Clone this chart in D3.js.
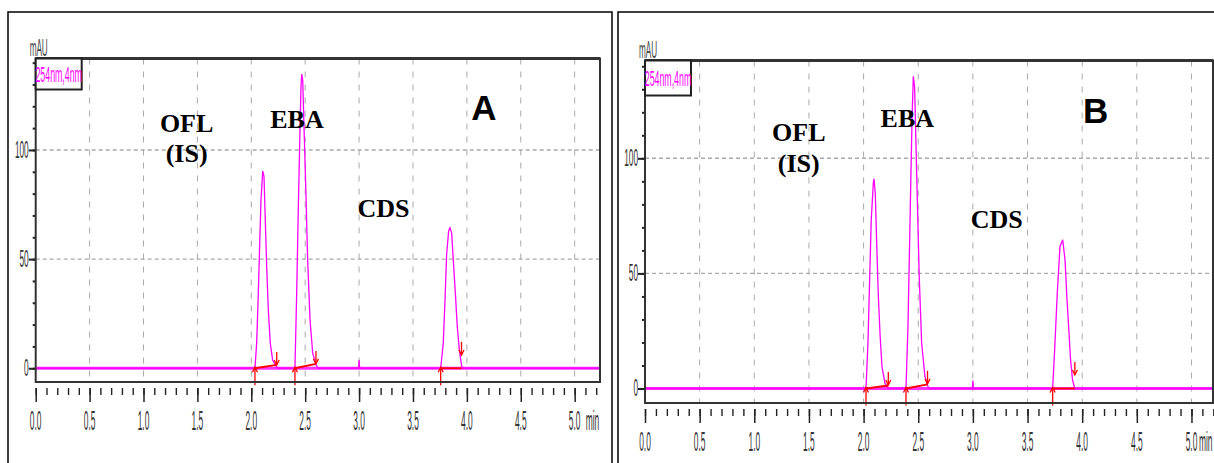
<!DOCTYPE html>
<html>
<head>
<meta charset="utf-8">
<script src="https://cdn.jsdelivr.net/npm/d3@7"></script>
<style>
body { margin: 0; background: #fff; }
svg { display: block; }
</style>
</head>
<body>
<script>
// tick labels
let xTickValues = [0, 0.5, 1, 1.5, 2, 2.5, 3, 3.5, 4, 4.5, 5];
let xTickLabels = ["0.0", "0.5", "1.0", "1.5", "2.0", "2.5", "3.0", "3.5", "4.0", "4.5", "5.0"];
let yTickValues = [0, 50, 100];
let yTickLabels = ["0", "50", "100"];
let detector = "254nm,4nm";

// chromatogram A: [time (min), signal (mAU)]
let traceA = [
    [0, 0], [2.034, 0], [2.050, 11.5], [2.065, 34], [2.078, 57], [2.090, 77], [2.106, 90.4],
    [2.118, 87.8], [2.127, 72.5], [2.143, 46.5], [2.158, 26.7], [2.176, 11.5], [2.198, 3.8],
    [2.229, 1.1], [2.245, 0],
    [2.405, 0], [2.421, 34], [2.436, 72.5], [2.449, 103], [2.461, 129], [2.468, 134.8],
    [2.477, 132], [2.489, 110.7], [2.507, 80], [2.523, 49.6], [2.545, 22], [2.570, 6.9],
    [2.600, 1.6], [2.620, 0],
    [2.995, 0], [3.0, 3.8], [3.005, 0],
    [3.757, 0], [3.781, 11.5], [3.797, 31], [3.812, 52], [3.831, 63], [3.843, 64.3],
    [3.859, 61.9], [3.874, 49.6], [3.893, 34.4], [3.911, 19.1], [3.930, 8.4], [3.952, 0.8],
    [3.965, 0], [5.235, 0]
];

// chromatogram B
let traceB = [
    [0, 0], [2.022, 0], [2.040, 19.6], [2.056, 48.5], [2.070, 73.2], [2.089, 89.2], [2.095, 91.1],
    [2.107, 84.8], [2.120, 63], [2.134, 41.4], [2.150, 24], [2.168, 9.6], [2.196, 2.2],
    [2.226, 0],
    [2.388, 0], [2.406, 26.8], [2.418, 55.7], [2.431, 87.6], [2.443, 116.5], [2.455, 135.6],
    [2.467, 131], [2.479, 106.7], [2.494, 77.6], [2.509, 48.9], [2.531, 19.9], [2.561, 5.4],
    [2.592, 0.4], [2.605, 0],
    [2.995, 0], [3.0, 3.5], [3.005, 0],
    [3.730, 0], [3.751, 19.6], [3.772, 41.4], [3.797, 61.7], [3.822, 64.6], [3.843, 55.9],
    [3.858, 41.4], [3.876, 26.8], [3.894, 12.3], [3.912, 3.6], [3.933, 0], [5.197, 0]
];

// integration marks: start / end time (min), level at end (mAU), tip of end arrow (mAU)
let peakStartA = [2.034, 2.405, 3.757];
let peakEndA = [2.236, 2.600, 3.950];
let endLevelA = [1.5, 2, 0];
let endTipA = [1.5, 2, 6.1];
let peakStartB = [2.022, 2.388, 3.730];
let peakEndB = [2.226, 2.585, 3.933];
let endLevelB = [1.3, 1.8, 0];
let endTipB = [1.5, 2, 5.9];

// peak labels, anchored in data units
let peakNames = ["OFL", "(IS)", "EBA", "CDS"];
let labelTimeA = [1.40, 1.40, 2.424, 3.226];
let labelMauA = [108.2, 94.5, 110.2, 69.4];
let labelTimeB = [1.407, 1.407, 2.40, 3.218];
let labelMauB = [107.6, 94, 113.4, 69.6];
let panelLetters = ["A", "B"];
let letterTime = [4.158, 4.124];
let letterMau = [113.7, 115.5];

let panels = [
    {frame: [8, 12, 604, 470], l: 35.7, r: 600, t: 58.5, b: 382, xMax: 5.235, yMin: -6.3, yMax: 141.9,
     legendH: 31, trace: traceA, start: peakStartA, end: peakEndA, lvl: endLevelA, tip: endTipA,
     labT: labelTimeA, labV: labelMauA},
    {frame: [618, 12, 620, 470], l: 645, r: 1213, t: 60.5, b: 403, xMax: 5.197, yMin: -6.3, yMax: 142.5,
     legendH: 35, trace: traceB, start: peakStartB, end: peakEndB, lvl: endLevelB, tip: endTipB,
     labT: labelTimeB, labV: labelMauB}
];

let svg = d3.select("body").append("svg").attr("width", 1214).attr("height", 463);

// narrow, tall text like the instrument printout
function narrowText(g, x, y, str, size, sx, anchor, color)
{
    g.append("text")
        .attr("transform", "translate(" + x + "," + y + ") scale(" + sx + ",1)")
        .attr("text-anchor", anchor)
        .attr("font-family", "Liberation Sans, Arial, sans-serif")
        .attr("font-size", size)
        .attr("fill", color)
        .text(str);
}

function arrow(g, x, y1, y2)
{
    let dir = y2 < y1 ? 1 : -1;
    g.append("line").attr("x1", x).attr("x2", x).attr("y1", y1).attr("y2", y2)
        .attr("stroke", "#f00").attr("stroke-width", 1.3);
    g.append("polyline")
        .attr("points", (x - 2.5) + "," + (y2 + dir * 5) + " " + x + "," + y2 + " " + (x + 2.5) + "," + (y2 + dir * 5))
        .attr("fill", "none").attr("stroke", "#f00").attr("stroke-width", 1.3);
}

panels.forEach(function(p, i)
{
    let g = svg.append("g");
    let x = d3.scaleLinear().domain([0, p.xMax]).range([p.l, p.r]);
    let y = d3.scaleLinear().domain([p.yMin, p.yMax]).range([p.b, p.t]);

    g.append("rect")
        .attr("x", p.frame[0]).attr("y", p.frame[1]).attr("width", p.frame[2]).attr("height", p.frame[3])
        .attr("fill", "none").attr("stroke", "#000").attr("stroke-width", 1.5);

    // grid
    g.selectAll(".vgrid").data(xTickValues.filter(v => v > 0)).enter().append("line")
        .attr("x1", d => x(d)).attr("x2", d => x(d)).attr("y1", p.t).attr("y2", p.b)
        .attr("stroke", "#aaa").attr("stroke-width", 1).attr("stroke-dasharray", "6,7");
    g.selectAll(".hgrid").data(yTickValues.filter(v => v > 0)).enter().append("line")
        .attr("x1", p.l).attr("x2", p.r).attr("y1", d => y(d)).attr("y2", d => y(d))
        .attr("stroke", "#aaa").attr("stroke-width", 1.4).attr("stroke-dasharray", "4,3");

    // x axis: minor and major ticks
    g.append("g").attr("transform", "translate(0," + (p.b + 6) + ")")
        .call(d3.axisBottom(x).tickValues(d3.range(0, 5.21, 0.1)).tickSize(7).tickFormat(""))
        .call(a => a.select(".domain").remove())
        .selectAll("line").attr("stroke", "#222").attr("stroke-width", 1.4);
    let xa = g.append("g").attr("transform", "translate(0," + (p.b + 6) + ")")
        .call(d3.axisBottom(x).tickValues(xTickValues).tickSize(14).tickFormat(""))
        .call(a => a.select(".domain").remove());
    xa.selectAll("line").attr("stroke", "#222").attr("stroke-width", 1.5);
    xTickValues.forEach(function(v, k)
    {
        narrowText(g, x(v), p.b + 48, xTickLabels[k], 28, 0.3, "middle", "#333");
    });
    narrowText(g, Math.min(x(5) + 11, 1199), p.b + 48, "min", 28, 0.3, "start", "#333");

    // y axis
    g.append("g").attr("transform", "translate(" + p.l + ",0)")
        .call(d3.axisLeft(y).tickValues(d3.range(0, 141, 10)).tickSize(3).tickFormat(""))
        .call(a => a.select(".domain").remove())
        .selectAll("line").attr("stroke", "#222").attr("stroke-width", 2);
    g.append("g").attr("transform", "translate(" + p.l + ",0)")
        .call(d3.axisLeft(y).tickValues(yTickValues).tickSize(7).tickFormat(""))
        .call(a => a.select(".domain").remove())
        .selectAll("line").attr("stroke", "#222").attr("stroke-width", 2);
    yTickValues.forEach(function(v, k)
    {
        narrowText(g, p.l - 7, y(v) + 8, yTickLabels[k], 23, 0.36, "end", "#333");
    });
    narrowText(g, p.l + 3, p.t - 3, "mAU", 24, 0.34, "middle", "#444");

    // zero line and trace
    g.append("line").attr("x1", p.l).attr("x2", p.r).attr("y1", y(0)).attr("y2", y(0))
        .attr("stroke", "#ff30ff").attr("stroke-width", 3);
    g.append("path").datum(p.trace)
        .attr("d", d3.line().x(d => x(d[0])).y(d => y(d[1])))
        .attr("fill", "none").attr("stroke", "#ff00ff").attr("stroke-width", 1.3);

    // integration marks
    p.start.forEach(function(s, k)
    {
        g.append("line")
            .attr("x1", x(s)).attr("y1", y(0)).attr("x2", x(p.end[k])).attr("y2", y(p.lvl[k]))
            .attr("stroke", "#f00").attr("stroke-width", 1.8);
        arrow(g, x(s), y(0) + 17, y(0) - 1);
        arrow(g, x(p.end[k]), y(p.tip[k]) - 13, y(p.tip[k]));
    });

    // plot frame, heavier on top
    g.append("rect").attr("x", p.l).attr("y", p.t).attr("width", p.r - p.l).attr("height", p.b - p.t)
        .attr("fill", "none").attr("stroke", "#333").attr("stroke-width", 2);
    g.append("line").attr("x1", p.l).attr("x2", p.r).attr("y1", p.t).attr("y2", p.t)
        .attr("stroke", "#333").attr("stroke-width", 3);

    // detector legend
    g.append("rect").attr("x", p.l).attr("y", p.t).attr("width", 46).attr("height", p.legendH)
        .attr("fill", "#fff").attr("stroke", "#222").attr("stroke-width", 2);
    narrowText(g, p.l + 23, p.t + p.legendH / 2 + 8, detector, 22, 0.4, "middle", "#ff00ff");

    // peak labels
    peakNames.forEach(function(n, k)
    {
        g.append("text").attr("x", x(p.labT[k])).attr("y", y(p.labV[k]))
            .attr("text-anchor", "middle")
            .attr("font-family", "Liberation Serif, Times New Roman, serif")
            .attr("font-weight", "bold").attr("font-size", 26)
            .text(n);
    });
    g.append("text").attr("x", x(letterTime[i])).attr("y", y(letterMau[i]))
        .attr("text-anchor", "middle")
        .attr("font-family", "Liberation Sans, Arial, sans-serif")
        .attr("font-weight", "bold").attr("font-size", 35)
        .text(panelLetters[i]);
});
</script>
</body>
</html>
